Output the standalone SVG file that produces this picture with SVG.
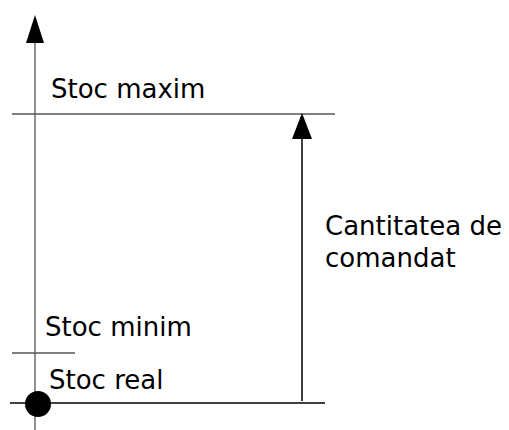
<svg xmlns="http://www.w3.org/2000/svg" width="509" height="430" viewBox="0 0 509 430">
<style>
.t{font-family:"DejaVu Sans",Verdana,sans-serif;font-size:26px;fill:#000}
.ln{stroke:#555;stroke-width:1.3;fill:none}
.dk{stroke:#000;stroke-width:1.5;fill:none}
</style>
<g id="connectors">
<path class="ln" d="M35 430 V43"/>
<path d="M35 15 L44 43 L26 43 Z" fill="#000"/>
<path class="ln" d="M12 114 H335"/>
<path class="ln" d="M12 353 H75"/>
<path class="dk" d="M10 403 H325"/>
<path class="dk" d="M302 401 V139"/>
<path d="M302 113 L312 139 L292 139 Z" fill="#000"/>
</g>
<g id="stoc-real-point"><circle cx="38" cy="404" r="13" fill="#000"/></g>
<g id="label-max"><text class="t" x="51" y="98">Stoc maxim</text></g>
<g id="label-min"><text class="t" x="45" y="336">Stoc minim</text></g>
<g id="label-real"><text class="t" x="49" y="389">Stoc real</text></g>
<g id="label-cant"><text class="t" x="325" y="235">Cantitatea de</text><text class="t" x="325" y="267">comandat</text></g>
</svg>
